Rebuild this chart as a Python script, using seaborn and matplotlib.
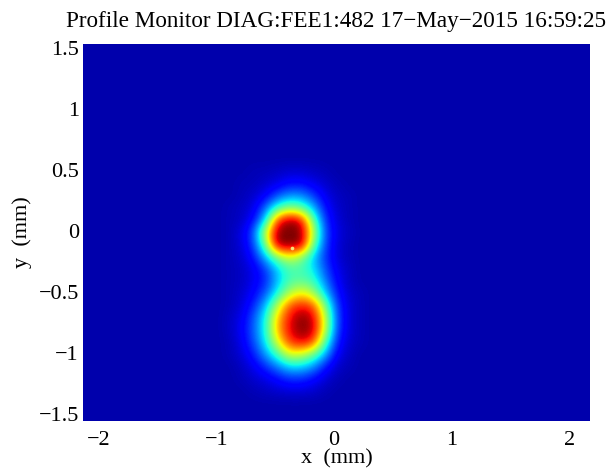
import numpy as np
import pandas as pd
import matplotlib
matplotlib.use('Agg')
import matplotlib.pyplot as plt
import seaborn as sns

plt.rcParams['font.family'] = ['Liberation Serif', 'DejaVu Sans']

title = 'Profile Monitor DIAG:FEE1:482 17\u2212May\u22122015 16:59:25'
x_ticks = [-2, -1, 0, 1, 2]
y_ticks = [-1.5, -1, -0.5, 0, 0.5, 1, 1.5]
x_range = [-2.13, 2.17]
y_range = [1.557, -1.54]
n_cols, n_rows = 43, 31
background = 0.04

# beam spot, 0.1 mm cells, columns x = -0.88 ... 0.22
first_col, first_row = 12, 10
spot = [
    [.04, .04, .05, .05, .06, .07, .07, .06, .05, .04, .04, .04],
    [.04, .05, .05, .07, .09, .13, .13, .10, .07, .05, .04, .04],
    [.04, .05, .07, .11, .21, .27, .27, .19, .10, .06, .05, .04],
    [.05, .06, .09, .23, .42, .52, .47, .32, .14, .07, .05, .04],
    [.05, .06, .13, .34, .86, 1.0, .93, .49, .18, .08, .05, .04],
    [.05, .09, .21, .60, 1.0, 1.0, 1.0, .60, .21, .09, .06, .04],
    [.05, .08, .19, .48, 1.0, 1.0, 1.0, .50, .20, .08, .05, .04],
    [.05, .07, .14, .31, .50, .62, .52, .33, .18, .08, .05, .04],
    [.05, .06, .10, .18, .33, .43, .43, .36, .21, .10, .06, .04],
    [.05, .06, .10, .16, .31, .44, .46, .43, .26, .12, .06, .04],
    [.05, .07, .12, .21, .38, .56, .66, .56, .34, .15, .07, .05],
    [.05, .08, .16, .31, .57, .82, .88, .84, .52, .19, .08, .05],
    [.06, .10, .21, .38, .70, .89, 1.0, .94, .62, .21, .08, .05],
    [.06, .11, .22, .39, .72, .91, 1.0, .96, .62, .20, .08, .05],
    [.05, .10, .20, .36, .62, .85, .92, .86, .47, .16, .07, .05],
    [.05, .08, .15, .28, .43, .62, .60, .49, .31, .11, .06, .04],
    [.04, .06, .10, .17, .25, .34, .34, .28, .15, .07, .05, .04],
    [.04, .05, .07, .09, .13, .17, .17, .13, .08, .05, .04, .04],
    [.04, .04, .05, .06, .07, .08, .08, .07, .05, .04, .04, .04],
]
hot_x = [-0.36]
hot_y = [-0.115]

image = np.full((n_rows, n_cols), background)
spot = np.array(spot)
image[first_row:first_row + spot.shape[0], first_col:first_col + spot.shape[1]] = spot
image = pd.DataFrame(image)

def col_pos(x):
    return (np.array(x) - x_range[0]) / (x_range[1] - x_range[0]) * n_cols

def row_pos(y):
    return (np.array(y) - y_range[0]) / (y_range[1] - y_range[0]) * n_rows

fig = plt.figure(figsize=(6.09, 4.70), dpi=100)
ax = fig.add_axes([83 / 609, 1 - 421 / 470, 507 / 609, 377 / 470])
sns.heatmap(image, cmap='jet', vmin=0, vmax=1, cbar=False, ax=ax)

# smooth the cells the way the camera image looks
ax.imshow(image.values, cmap='jet', vmin=0, vmax=1, aspect='auto', zorder=2,
          interpolation='bicubic', interpolation_stage='data',
          extent=(0, n_cols, n_rows, 0))
ax.scatter(col_pos(hot_x), row_pos(hot_y), s=7, c='#f6e27a', linewidths=0, zorder=3)
ax.set_xlim(0, n_cols)
ax.set_ylim(n_rows, 0)

ax.set_xticks(col_pos(x_ticks))
ax.set_xticklabels([str(t).replace('-', '\u2212') for t in x_ticks], rotation=0, fontsize=16)
ax.set_yticks(row_pos(y_ticks))
ax.set_yticklabels([f'{t:g}'.replace('-', '\u2212') for t in y_ticks], rotation=0, fontsize=16)
ax.tick_params(axis='x', length=0, pad=7)
ax.tick_params(axis='y', length=0, pad=3)
ax.set_xlabel('x  (mm)', fontsize=16, labelpad=0)
ax.set_ylabel('y  (mm)', fontsize=16, labelpad=5)
fig.text(336 / 609, 1 - 21 / 470, title, fontsize=16.7, ha='center', va='center')

plt.savefig('out.png', dpi=100)
